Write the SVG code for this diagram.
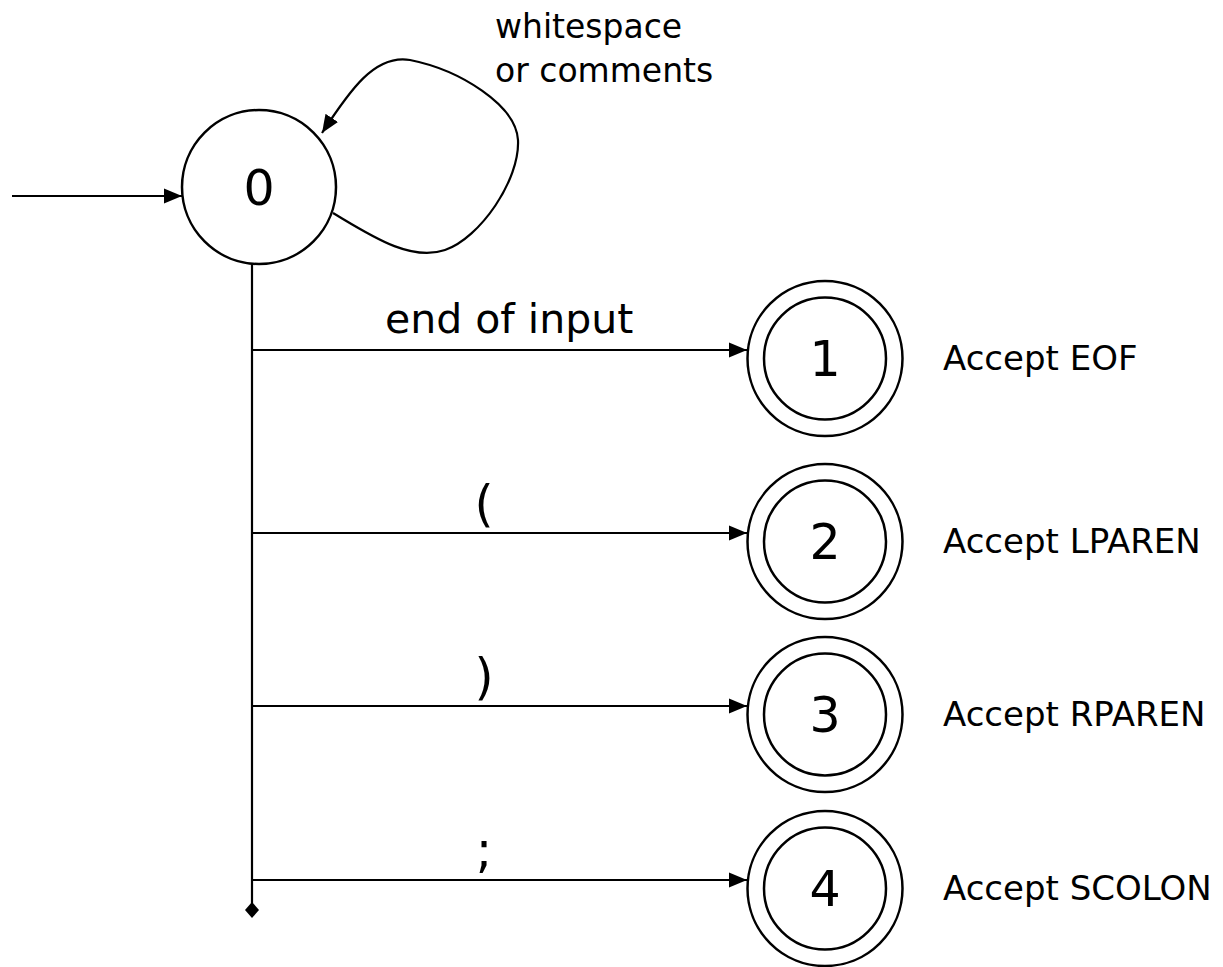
<svg xmlns="http://www.w3.org/2000/svg" width="1223" height="967" viewBox="0 0 1223 967">
<style>
.st{fill:#fff;stroke:#000;stroke-width:2.5}
.c{fill:none;stroke:#000;stroke-width:2.2}
.num{font-family:"DejaVu Sans",Verdana,sans-serif;font-size:49px;text-anchor:middle;fill:#000}
.lbl{font-family:"DejaVu Sans",Verdana,sans-serif;font-size:41px;fill:#000}
.acc{font-family:"DejaVu Sans",Verdana,sans-serif;font-size:34px;fill:#000}
.sm{font-family:"DejaVu Sans",Verdana,sans-serif;font-size:33px;fill:#000}
</style>
<defs>
<marker id="arr" markerUnits="userSpaceOnUse" markerWidth="20" markerHeight="16" refX="18" refY="8" orient="auto">
<path d="M0,0.5 L18,8 L0,15.5 Z" fill="#000"/>
</marker>
</defs>
<g id="connectors">
<line class="c" x1="12" y1="196" x2="182" y2="196" marker-end="url(#arr)"/>
<path class="c" d="M333,213 C370,235 410,262 445,250 C480,238 520,180 518,140 C516,105 460,70 410,60 C375,54 350,90 322,133" marker-end="url(#arr)"/>
<line class="c" x1="252" y1="263" x2="252" y2="904"/>
<path d="M252,902 L259,910 L252,918 L245,910 Z" fill="#000"/>
<line class="c" x1="252" y1="350" x2="747" y2="350" marker-end="url(#arr)"/>
<line class="c" x1="252" y1="533" x2="747" y2="533" marker-end="url(#arr)"/>
<line class="c" x1="252" y1="706" x2="747" y2="706" marker-end="url(#arr)"/>
<line class="c" x1="252" y1="880" x2="747" y2="880" marker-end="url(#arr)"/>
<text class="sm" x="495" y="38">whitespace</text>
<text class="sm" x="495" y="82">or comments</text>
<text class="lbl" x="385" y="333">end of input</text>
<text class="num" x="484" y="521">(</text>
<text class="num" x="484" y="694">)</text>
<text class="num" x="484" y="867">;</text>
</g>
<g id="s0">
<circle class="st" cx="259" cy="187" r="77"/>
<text class="num" x="259" y="205">0</text>
</g>
<g id="s1">
<circle class="st" cx="825" cy="358.5" r="77.5"/>
<circle class="st" cx="825" cy="358.5" r="61"/>
<text class="num" x="825" y="376">1</text>
<text class="acc" x="943" y="370">Accept EOF</text>
</g>
<g id="s2">
<circle class="st" cx="825" cy="541.5" r="77.5"/>
<circle class="st" cx="825" cy="541.5" r="61"/>
<text class="num" x="825" y="559">2</text>
<text class="acc" x="943" y="553">Accept LPAREN</text>
</g>
<g id="s3">
<circle class="st" cx="825" cy="714.5" r="77.5"/>
<circle class="st" cx="825" cy="714.5" r="61"/>
<text class="num" x="825" y="732">3</text>
<text class="acc" x="943" y="726">Accept RPAREN</text>
</g>
<g id="s4">
<circle class="st" cx="825" cy="888.5" r="77.5"/>
<circle class="st" cx="825" cy="888.5" r="61"/>
<text class="num" x="825" y="906">4</text>
<text class="acc" x="943" y="900">Accept SCOLON</text>
</g>
</svg>
